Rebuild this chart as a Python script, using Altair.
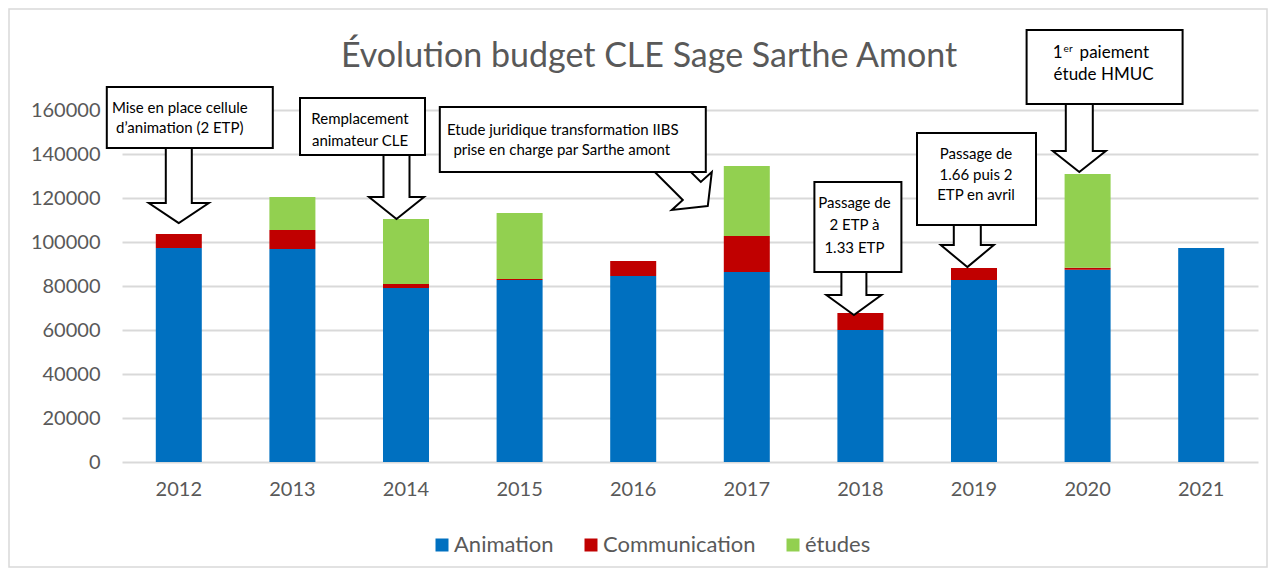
import altair as alt
import pandas as pd

# ---------------- data ----------------
years = ["2012", "2013", "2014", "2015", "2016", "2017", "2018", "2019", "2020", "2021"]
animation = [97300, 96800, 79100, 82700, 84500, 86400, 60000, 82700, 87400, 97300]
communication = [6300, 8700, 1800, 500, 6900, 16300, 7700, 5500, 900, 0]
etudes = [0, 15000, 29600, 30000, 0, 31800, 0, 0, 42600, 0]
series_names = ["Animation", "Communication", "études"]
series_colors = ["#0070C0", "#C00000", "#92D050"]
y_ticks = [0, 20000, 40000, 60000, 80000, 100000, 120000, 140000, 160000]

title_text = "Évolution budget CLE Sage Sarthe Amont"

# annotation anchors (year, value at arrow tip)
ann_years = ["2012", "2014", "2017", "2018", "2019", "2020"]
ann_values = [108600, 110450, 116400, 66800, 88600, 131800]

rows = []
for i, yr in enumerate(years):
    for k, (name, vals) in enumerate(zip(series_names, [animation, communication, etudes])):
        rows.append({"year": yr, "series": name, "value": vals[i], "ord": k})
df = pd.DataFrame(rows)

# ---------------- layout helpers (pixel offsets relative to anchors) ----------------
W, H = 1136, 352
FONT = "Lato"
GREY = "#595959"


def down_arrow(cx, w, h, L, T):
    return (f"M{cx},0 L{cx - h},{-L} L{cx - w},{-L} L{cx - w},{-T} "
            f"L{cx + w},{-T} L{cx + w},{-L} L{cx + h},{-L} Z")


def box(x0, y0, x1, y1):
    return f"M{x0},{y0} L{x1},{y0} L{x1},{y1} L{x0},{y1} Z"


diag_arrow = "M-39,0 L-75,4 L-64,-6 L-104,-46 L-86,-64 L-46,-24 L-35,-34 Z"

arrows = [
    down_arrow(0, 13, 30, 20, 78),
    down_arrow(-9.5, 13, 27.5, 22, 66),
    diag_arrow,
    down_arrow(-6.5, 12.5, 27.5, 20, 46),
    down_arrow(-6.7, 13.5, 26.5, 22, 45),
    down_arrow(-8.3, 13.5, 26.5, 21, 71),
]
boxes = [
    box(-72, -136, 94, -75),
    box(-106, -121, 19, -64),
    box(-307, -99, -41, -34),
    box(-46, -133, 41, -43),
    box(-57, -134, 62, -42),
    box(-61, -142, 95, -68),
]
# (annotation index, text, dx, dy, size, align)
text_lines = [
    (0, "Mise en place cellule", 1, -115, 15, "center"),
    (0, "d’animation (2 ETP)", 1, -95, 15, "center"),
    (1, "Remplacement", -46, -100, 15, "center"),
    (1, "animateur CLE", -46, -78, 15, "center"),
    (2, "Etude juridique transformation IIBS", -184, -76, 15, "center"),
    (2, "prise en charge par Sarthe amont", -185, -56, 15, "center"),
    (3, "Passage de", -6, -112, 15, "center"),
    (3, "2 ETP à", -6, -90, 15, "center"),
    (3, "1.33 ETP", -6, -67, 15, "center"),
    (4, "Passage de", 2, -113, 15, "center"),
    (4, "1.66 puis 2", 2, -92, 15, "center"),
    (4, "ETP en avril", 2, -72, 15, "center"),
    (5, "1", -25, -119, 17, "right"),
    (5, "er", -24, -123, 10, "left"),
    (5, "paiement", -8, -119, 17, "left"),
    (5, "étude HMUC", 16, -97, 17, "center"),
]

# ---------------- shared encodings ----------------
y_axis = alt.Axis(title=None, values=y_ticks, format="d", labelFont=FONT,
                  labelFontSize=20, labelColor=GREY, ticks=False, domain=False,
                  labelPadding=22, grid=True, gridColor="#d9d9d9", gridWidth=2)
y_scale = alt.Scale(domain=[0, 160000], nice=False, zero=True)

X = alt.X(
    "year:N",
    scale=alt.Scale(domain=years, paddingInner=0.595, paddingOuter=0.2975),
    axis=alt.Axis(title=None, labelAngle=0, labelFont=FONT, labelFontSize=20,
                  labelColor=GREY, ticks=False, domain=False, labelPadding=17),
)
Y = alt.Y("value:Q", scale=y_scale, axis=y_axis)

bars = alt.Chart(df).mark_bar().encode(
    x=X,
    y=alt.Y("value:Q", stack="zero", scale=y_scale, axis=y_axis),
    color=alt.Color(
        "series:N",
        scale=alt.Scale(domain=series_names, range=series_colors),
        legend=alt.Legend(orient="none", legendX=309, legendY=424, direction="horizontal",
                          title=None, symbolType="square", symbolSize=169,
                          symbolStrokeWidth=0, labelFont=FONT, labelFontSize=22,
                          labelColor=GREY, columnPadding=26, labelOffset=1),
    ),
    order=alt.Order("ord:Q", sort="ascending"),
)

arrow_df = pd.DataFrame({"year": ann_years, "value": ann_values, "path": arrows})
box_df = pd.DataFrame({"year": ann_years, "value": ann_values, "path": boxes})

arrow_layer = alt.Chart(arrow_df).mark_point(
    size=4, filled=True, fill="white", stroke="black", strokeWidth=2,
    opacity=1, strokeJoin="miter"
).encode(x=X, y=Y, shape=alt.Shape("path:N", scale=None))

box_layer = alt.Chart(box_df).mark_point(
    size=4, filled=True, fill="white", stroke="black", strokeWidth=2,
    opacity=1, strokeJoin="miter"
).encode(x=X, y=Y, shape=alt.Shape("path:N", scale=None))

text_layers = []
for idx, txt, dx, dy, size, align in text_lines:
    tdf = pd.DataFrame({"year": [ann_years[idx]], "value": [ann_values[idx]], "t": [txt]})
    text_layers.append(
        alt.Chart(tdf).mark_text(dx=dx, dy=dy, fontSize=size, font=FONT, color="black",
                                 align=align, baseline="middle").encode(x=X, y=Y, text="t:N")
    )

title_layer = alt.Chart(pd.DataFrame({"t": [title_text]})).mark_text(
    font=FONT, fontSize=34, color=GREY, align="center", baseline="alphabetic"
).encode(x=alt.value(527), y=alt.value(-43), text="t:N")

frame = alt.Chart(pd.DataFrame({"a": [0]})).mark_rect(
    fill="white", fillOpacity=0, stroke="#d9d9d9", strokeWidth=1.5
).encode(x=alt.value(-113), x2=alt.value(1145), y=alt.value(-101), y2=alt.value(457))

chart = alt.layer(bars, arrow_layer, box_layer, *text_layers, title_layer, frame).properties(
    width=W, height=H,
    autosize=alt.AutoSizeParams(type="none"),
    padding={"left": 114, "top": 102, "right": 10, "bottom": 106},
    background="white",
).configure_view(stroke=None)

chart.save("out.html", embed_options={"renderer": "svg", "actions": False})
